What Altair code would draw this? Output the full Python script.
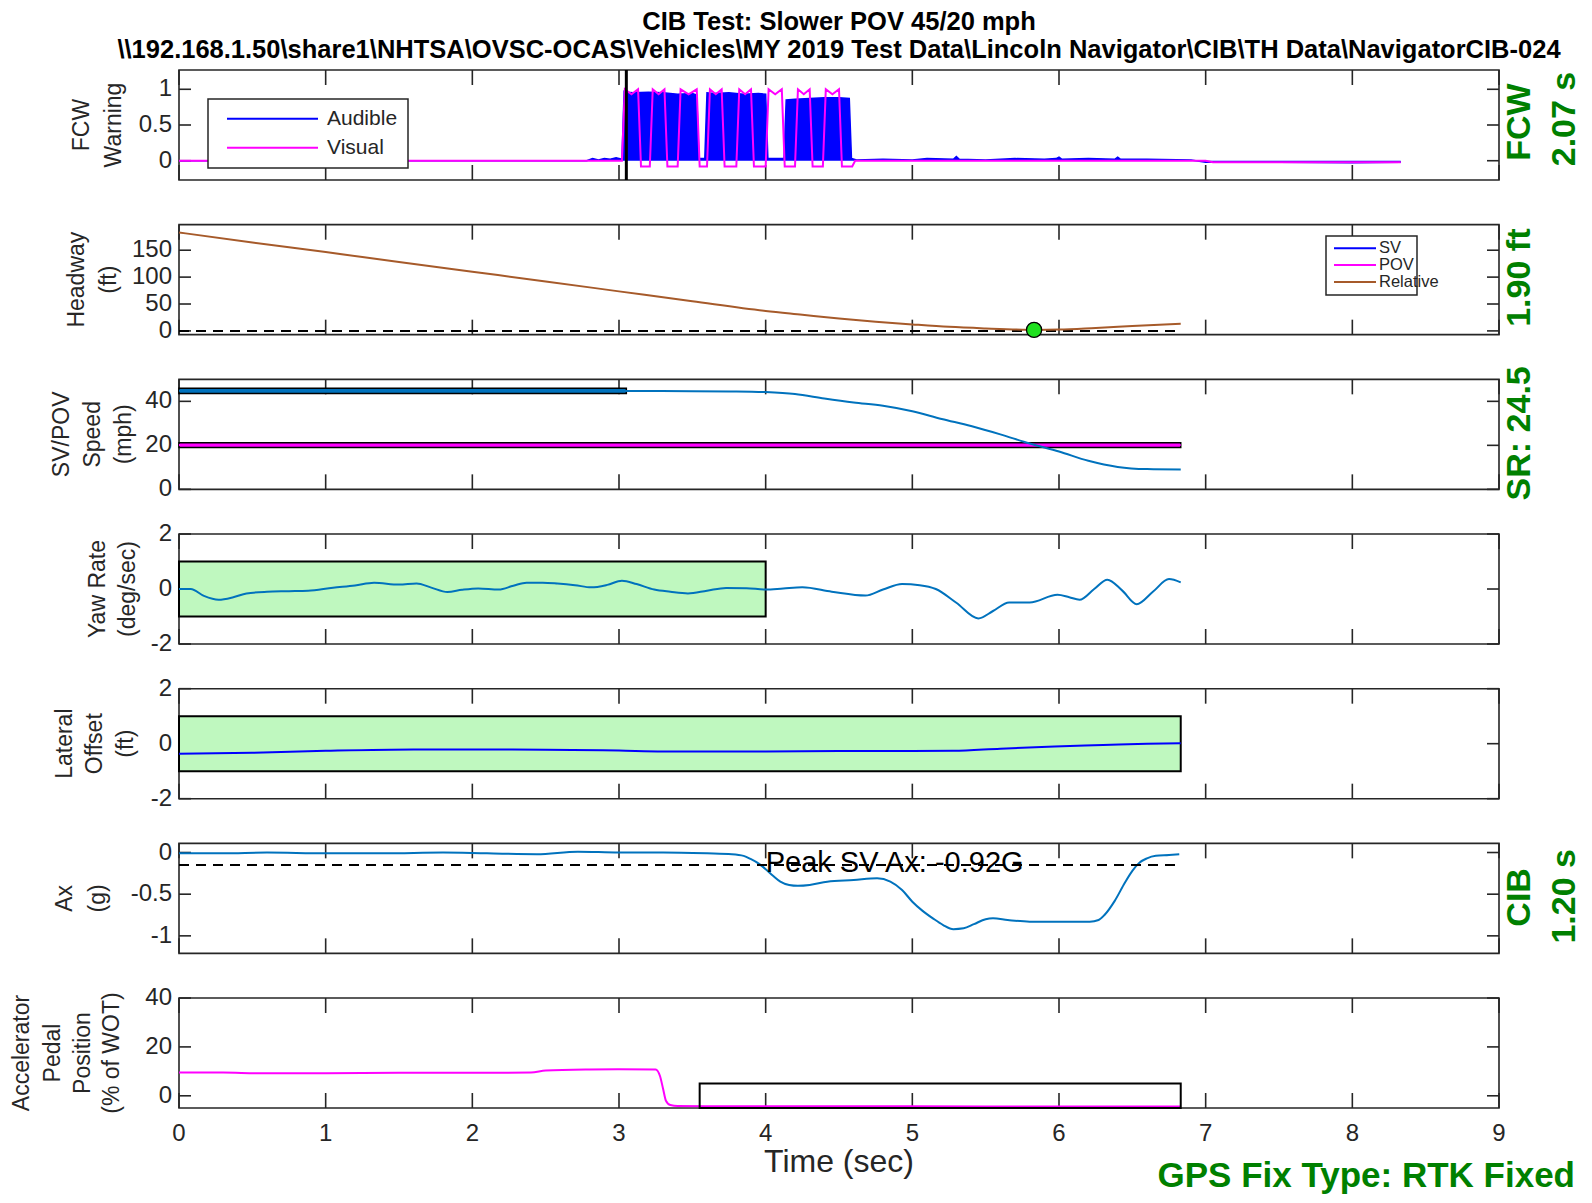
import altair as alt
import pandas as pd

# ------------------------------------------------------------------ data
time_ticks = [0, 1, 2, 3, 4, 5, 6, 7, 8, 9]
time_tick_labels = ["0", "1", "2", "3", "4", "5", "6", "7", "8", "9"]

# Panel 1: FCW warning
fcw_ticks = [0, 0.5, 1]
fcw_tick_labels = ["0", "0.5", "1"]
audible_t = [0.0, 2.78, 2.82, 2.86, 2.90, 2.94, 2.98, 3.02, 3.035, 3.045,
             3.10, 3.20, 3.30, 3.40, 3.50, 3.53, 3.545, 3.585, 3.60, 3.65,
             3.75, 3.85, 3.95, 4.00, 4.015, 4.125, 4.14, 4.20, 4.30, 4.40,
             4.50, 4.57, 4.585, 4.62, 4.80, 5.00, 5.10, 5.28, 5.30, 5.32,
             5.50, 5.70, 5.90, 5.98, 6.00, 6.02, 6.20, 6.38, 6.40, 6.42,
             6.60, 6.90, 7.00, 7.50, 8.00, 8.33]
audible_v = [0.0, 0.0, 0.03, 0.01, 0.03, 0.02, 0.04, 0.02, 0.97, 0.96,
             0.95, 0.96, 0.95, 0.93, 0.94, 0.92, 0.03, 0.03, 0.95, 0.94,
             0.95, 0.93, 0.94, 0.93, 0.03, 0.03, 0.85, 0.86, 0.87, 0.88,
             0.88, 0.87, 0.03, 0.01, 0.02, 0.01, 0.03, 0.02, 0.06, 0.02,
             0.01, 0.03, 0.02, 0.03, 0.05, 0.02, 0.03, 0.02, 0.05, 0.02,
             0.02, 0.01, -0.02, -0.02, -0.03, -0.02]
visual_t = [0.0, 3.02,
            3.04, 3.085, 3.13, 3.15, 3.21,
            3.23, 3.27, 3.31, 3.33, 3.40,
            3.42, 3.475, 3.53, 3.55, 3.60,
            3.62, 3.66, 3.70, 3.72, 3.80,
            3.82, 3.86, 3.90, 3.92, 4.00,
            4.02, 4.065, 4.11, 4.13, 4.20,
            4.22, 4.26, 4.30, 4.32, 4.39,
            4.41, 4.455, 4.50, 4.52, 4.59,
            4.61, 7.00, 7.05, 8.33]
visual_v = [0.0, 0.0,
            1.0, 0.93, 1.0, -0.08, -0.08,
            1.0, 0.93, 1.0, -0.08, -0.08,
            1.0, 0.93, 1.0, -0.08, -0.08,
            1.0, 0.93, 1.0, -0.08, -0.08,
            1.0, 0.93, 1.0, -0.08, -0.08,
            1.0, 0.93, 1.0, -0.08, -0.08,
            1.0, 0.93, 1.0, -0.08, -0.08,
            1.0, 0.93, 1.0, -0.08, -0.08,
            0.0, 0.0, -0.02, -0.02]
fcw_onset_t = [3.05]
fcw_legend = ["Audible", "Visual"]

# Panel 2: headway
headway_ticks = [0, 50, 100, 150]
headway_tick_labels = ["0", "50", "100", "150"]
relative_t = [0, 0.5, 1, 1.5, 2, 2.5, 3, 3.5, 4, 4.25, 4.5, 4.75, 5, 5.25,
              5.5, 5.75, 5.83, 6, 6.25, 6.5, 6.83]
relative_v = [183, 164.5, 146.5, 128, 110, 92, 73.5, 55, 37, 30, 23, 17, 12,
              7.5, 4.5, 2.2, 1.9, 2.4, 5.5, 9, 13.5]
headway_zero_t = [0, 6.83]
headway_zero_v = [0, 0]
min_gap_t = [5.83]
min_gap_v = [1.9]
headway_legend = ["SV", "POV", "Relative"]

# Panel 3: speeds
speed_ticks = [0, 20, 40]
speed_tick_labels = ["0", "20", "40"]
sv_t = [0, 0.5, 1, 1.5, 2, 2.5, 3, 3.5, 3.8, 4.0, 4.2, 4.4, 4.6, 4.8, 5.0,
        5.2, 5.4, 5.6, 5.8, 6.0, 6.2, 6.4, 6.6, 6.83]
sv_v = [44.8, 44.8, 44.8, 44.7, 44.8, 44.7, 44.7, 44.6, 44.5, 44.2, 43.3,
        41.3, 39.5, 38.0, 35.5, 32.0, 28.8, 25.0, 20.8, 17.2, 13.0, 10.2,
        9.2, 9.0]
pov_t = [0, 6.83]
pov_v = [20.1, 20.1]
sv_band = [0, 3.05, 43.6, 45.9]
pov_band = [0, 6.83, 19.0, 21.2]

# Panel 4: yaw rate
yaw_ticks = [-2, 0, 2]
yaw_tick_labels = ["-2", "0", "2"]
yaw_t = [0.00, 0.08, 0.17, 0.27, 0.37, 0.46, 0.60, 0.75, 0.88, 1.05,
         1.20, 1.33, 1.50, 1.62, 1.72, 1.83, 1.93, 2.04, 2.18, 2.28,
         2.37, 2.48, 2.58, 2.70, 2.81, 2.92, 3.02, 3.12, 3.24, 3.35,
         3.47, 3.60, 3.73, 3.87, 4.00, 4.12, 4.25, 4.45, 4.68, 4.80,
         4.93, 5.05, 5.16, 5.30, 5.45, 5.55, 5.66, 5.80, 5.99, 6.07,
         6.14, 6.24, 6.33, 6.43, 6.53, 6.64, 6.75, 6.83]
yaw_v = [0.00, 0.00, -0.25, -0.39, -0.30, -0.16, -0.10, -0.08, -0.06, 0.05,
         0.13, 0.23, 0.16, 0.20, 0.05, -0.11, -0.03, 0.02, -0.02, 0.12,
         0.23, 0.23, 0.20, 0.14, 0.06, 0.15, 0.30, 0.18, -0.02, -0.10,
         -0.16, -0.06, 0.04, 0.03, -0.02, 0.02, 0.06, -0.10, -0.24, -0.02,
         0.18, 0.14, 0.00, -0.50, -1.07, -0.80, -0.49, -0.49, -0.21, -0.30,
         -0.39, 0.00, 0.34, -0.05, -0.55, -0.10, 0.36, 0.24]
yaw_band = [0, 4.0, -1, 1]

# Panel 5: lateral offset
lat_ticks = [-2, 0, 2]
lat_tick_labels = ["-2", "0", "2"]
lat_t = [0, 0.5, 1.0, 1.6, 2.27, 3.0, 3.3, 4.0, 4.5, 5.0, 5.28, 5.6, 5.97,
         6.3, 6.6, 6.83]
lat_v = [-0.37, -0.33, -0.26, -0.21, -0.21, -0.25, -0.28, -0.28, -0.27,
         -0.27, -0.26, -0.18, -0.10, -0.05, 0.00, 0.02]
lat_band = [0, 6.83, -1, 1]

# Panel 6: longitudinal acceleration
ax_ticks = [-1, -0.5, 0]
ax_tick_labels = ["-1", "-0.5", "0"]
ax_t = [0.00, 0.30, 0.60, 1.00, 1.40, 1.80, 2.10, 2.44, 2.72, 3.00,
        3.30, 3.60, 3.77, 3.85, 3.90, 3.95, 4.00, 4.05, 4.10, 4.16,
        4.22, 4.30, 4.42, 4.60, 4.76, 4.85, 4.93, 5.00, 5.07, 5.14,
        5.21, 5.28, 5.35, 5.42, 5.50, 5.55, 5.65, 5.80, 6.00, 6.21,
        6.27, 6.31, 6.38, 6.45, 6.50, 6.55, 6.60, 6.66, 6.75, 6.82]
ax_v = [-0.01, -0.01, 0.00, -0.01, -0.01, 0.00, -0.01, -0.02, 0.01, 0.00,
        0.00, -0.01, -0.02, -0.04, -0.08, -0.13, -0.20, -0.28, -0.35, -0.39,
        -0.40, -0.39, -0.35, -0.33, -0.31, -0.35, -0.45, -0.59, -0.70, -0.79,
        -0.87, -0.92, -0.91, -0.86, -0.80, -0.79, -0.81, -0.83, -0.83, -0.83,
        -0.81, -0.75, -0.58, -0.36, -0.22, -0.12, -0.07, -0.04, -0.03, -0.02]
ax_thresh_t = [0, 6.83]
ax_thresh_v = [-0.15, -0.15]
peak_t = [4.0]
peak_v = [-0.13]
peak_label = ["Peak SV Ax: -0.92G"]

# Panel 7: accelerator pedal
pedal_ticks = [0, 20, 40]
pedal_tick_labels = ["0", "20", "40"]
pedal_t = [0.00, 0.30, 0.55, 1.00, 1.50, 2.00, 2.40, 2.50, 2.80, 3.00,
           3.25, 3.28, 3.30, 3.32, 3.35, 3.40, 4.00, 5.00, 6.00, 6.83]
pedal_v = [9.5, 9.5, 9.2, 9.2, 9.4, 9.4, 9.5, 10.3, 10.8, 10.9,
           10.8, 8.0, 3.0, -2.0, -3.8, -4.2, -4.3, -4.3, -4.4, -4.4]
pedal_box = [3.55, 6.83, -5, 5]

# ------------------------------------------------------------------ style
W, H = 1320, 110
FRAME = "#262626"
GREEN = "#008000"
BLUE = "#0000FF"
MAG = "#FF00FF"
MBLUE = "#0072BD"
BROWN = "#A65A2A"
BAND = "#BFF8BF"
FONT = "Liberation Sans"
XTICK, YTICK, TW = 15, 12, 1.6
GSIZE = 34
XS = alt.Scale(domain=[0, 9], nice=False, zero=False)
ONE = pd.DataFrame({"k": [0]})


def ys(dom):
    return alt.Scale(domain=dom, nice=False, zero=False)


def X(field="t"):
    return alt.X(f"{field}:Q", scale=XS, axis=None, title=None)


def Y(dom, field="v"):
    return alt.Y(f"{field}:Q", scale=ys(dom), axis=None, title=None)


def frame(dom, ticks, labels, xlabels=False):
    xt = pd.DataFrame({"t": time_ticks, "lab": time_tick_labels})
    yt = pd.DataFrame({"v": ticks, "lab": labels})
    bx = alt.Chart(xt).mark_rule(color=FRAME, strokeWidth=TW)
    by = alt.Chart(yt).mark_rule(color=FRAME, strokeWidth=TW)
    out = [
        bx.encode(x=X(), y=alt.value(0), y2=alt.value(XTICK)),
        bx.encode(x=X(), y=alt.value(H - XTICK), y2=alt.value(H)),
        by.encode(y=Y(dom), x=alt.value(0), x2=alt.value(YTICK)),
        by.encode(y=Y(dom), x=alt.value(W - YTICK), x2=alt.value(W)),
        alt.Chart(yt).mark_text(align="right", baseline="middle", fontSize=24,
                                font=FONT, color=FRAME)
        .encode(y=Y(dom), x=alt.value(-7), text="lab:N"),
    ]
    if xlabels:
        out.append(alt.Chart(xt).mark_text(align="center", baseline="top",
                                           fontSize=24, font=FONT, color=FRAME)
                   .encode(x=X(), y=alt.value(H + 14), text="lab:N"))
    return out


def dline(t, v, dom, color, width=2.0, dash=None, interp="linear"):
    kw = dict(color=color, strokeWidth=width, interpolate=interp)
    if dash:
        kw["strokeDash"] = dash
    return alt.Chart(pd.DataFrame({"t": t, "v": v})).mark_line(**kw).encode(
        x=X(), y=Y(dom))


def drect(b, dom, fill, fill_opacity=1.0, width=2.0):
    df = pd.DataFrame({"t0": [b[0]], "t1": [b[1]], "v0": [b[2]], "v1": [b[3]]})
    return alt.Chart(df).mark_rect(fill=fill, fillOpacity=fill_opacity,
                                   stroke="#000000", strokeWidth=width).encode(
        x=X("t0"), x2="t1:Q", y=Y(dom, "v0"), y2="v1:Q")


def txt(s, x, y, size, color=FRAME, bold=False, angle=0, align="center",
        baseline="middle"):
    return alt.Chart(ONE).mark_text(
        text=s, fontSize=size, font=FONT, color=color,
        fontWeight="bold" if bold else "normal", angle=angle, align=align,
        baseline=baseline).encode(x=alt.value(x), y=alt.value(y))


def prule(x1, x2, y1, y2, color, width=2.0):
    return alt.Chart(ONE).mark_rule(color=color, strokeWidth=width).encode(
        x=alt.value(x1), x2=alt.value(x2), y=alt.value(y1), y2=alt.value(y2))


def pbox(x1, x2, y1, y2):
    return alt.Chart(ONE).mark_rect(fill="white", stroke=FRAME,
                                    strokeWidth=1.5).encode(
        x=alt.value(x1), x2=alt.value(x2), y=alt.value(y1), y2=alt.value(y2))


def ytitle(lines, xs):
    return [txt(s, x, H / 2, 23, angle=270) for s, x in zip(lines, xs)]


def panel(layers):
    return alt.layer(*layers).properties(width=W, height=H)


# ------------------------------------------------------------------ panels
D1 = [-0.27, 1.27]
p1 = panel(
    frame(D1, fcw_ticks, fcw_tick_labels)
    + [
        alt.Chart(pd.DataFrame({"t": audible_t, "v": audible_v}))
        .mark_area(color=BLUE, opacity=1, line={"color": BLUE, "strokeWidth": 1.5})
        .encode(x=X(), y=Y(D1), y2=alt.datum(0)),
        dline(visual_t, visual_v, D1, MAG, 2.0),
        alt.Chart(pd.DataFrame({"t": fcw_onset_t})).mark_rule(
            color="#000000", strokeWidth=3).encode(
            x=X(), y=alt.value(0), y2=alt.value(H)),
        pbox(29, 229, 29, 98),
        prule(48, 139, 48.7, 48.7, BLUE),
        prule(48, 139, 77.7, 77.7, MAG),
        txt(fcw_legend[0], 148, 48.7, 21, align="left"),
        txt(fcw_legend[1], 148, 77.7, 21, align="left"),
        txt("CIB Test: Slower POV 45/20 mph", W / 2, -48, 25.5, "#000000", True),
        txt("\\\\192.168.1.50\\share1\\NHTSA\\OVSC-OCAS\\Vehicles\\MY 2019 Test Data"
            "\\Lincoln Navigator\\CIB\\TH Data\\NavigatorCIB-024",
            W / 2, -20, 25.5, "#000000", True),
        txt("FCW", 1341, 52, GSIZE, GREEN, True, 270),
        txt("2.07 s", 1386, 49, GSIZE, GREEN, True, 270),
        prule(-169.5, -168.5, -60.5, -59.5, "#FFFFFF", 1),
    ]
    + ytitle(["FCW", "Warning"], [-97, -65])
)

D2 = [-7, 197.5]
p2 = panel(
    frame(D2, headway_ticks, headway_tick_labels)
    + [
        dline(headway_zero_t, headway_zero_v, D2, "#000000", 2.0, [10, 7]),
        dline(relative_t, relative_v, D2, BROWN, 2.0, interp="monotone"),
        alt.Chart(pd.DataFrame({"t": min_gap_t, "v": min_gap_v})).mark_point(
            filled=True, fill="#1EE01E", stroke="#000000", strokeWidth=1.3,
            size=230, opacity=1).encode(x=X(), y=Y(D2)),
        pbox(1147, 1238, 11.3, 70.3),
        prule(1155, 1197, 23.6, 23.6, BLUE),
        prule(1155, 1197, 40.3, 40.3, MAG),
        prule(1155, 1197, 57.3, 57.3, BROWN),
        txt(headway_legend[0], 1200, 23.6, 16.5, align="left"),
        txt(headway_legend[1], 1200, 40.3, 16.5, align="left"),
        txt(headway_legend[2], 1200, 57.3, 16.5, align="left"),
        txt("1.90 ft", 1341, 53, GSIZE, GREEN, True, 270),
    ]
    + ytitle(["Headway", "(ft)"], [-102, -70.5])
)

D3 = [0, 50]
p3 = panel(
    frame(D3, speed_ticks, speed_tick_labels)
    + [
        drect(sv_band, D3, MBLUE, 1.0, 1.5),
        drect(pov_band, D3, MAG, 1.0, 1.5),
        dline(pov_t, pov_v, D3, MAG, 2.0),
        dline(sv_t, sv_v, D3, MBLUE, 2.0, interp="monotone"),
        txt("SR: 24.5", 1341, 54, GSIZE, GREEN, True, 270),
    ]
    + ytitle(["SV/POV", "Speed", "(mph)"], [-117, -86, -55])
)

D4 = [-2, 2]
p4 = panel(
    frame(D4, yaw_ticks, yaw_tick_labels)
    + [
        drect(yaw_band, D4, BAND, 1.0, 2.0),
        dline(yaw_t, yaw_v, D4, MBLUE, 2.0, interp="monotone"),
    ]
    + ytitle(["Yaw Rate", "(deg/sec)"], [-81, -51.5])
)

D5 = [-2, 2]
p5 = panel(
    frame(D5, lat_ticks, lat_tick_labels)
    + [
        drect(lat_band, D5, BAND, 1.0, 2.0),
        dline(lat_t, lat_v, D5, BLUE, 2.0, interp="monotone"),
    ]
    + ytitle(["Lateral", "Offset", "(ft)"], [-114, -84, -53])
)

D6 = [-1.21, 0.11]
p6 = panel(
    frame(D6, ax_ticks, ax_tick_labels)
    + [
        dline(ax_t, ax_v, D6, MBLUE, 2.0, interp="monotone"),
        dline(ax_thresh_t, ax_thresh_v, D6, "#000000", 2.0, [10, 7]),
        alt.Chart(pd.DataFrame({"t": peak_t, "v": peak_v, "s": peak_label}))
        .mark_text(align="left", baseline="middle", fontSize=29, font=FONT,
                   color="#000000")
        .encode(x=X(), y=Y(D6), text="s:N"),
        txt("CIB", 1341, 54, GSIZE, GREEN, True, 270),
        txt("1.20 s", 1386, 53, GSIZE, GREEN, True, 270),
    ]
    + ytitle(["Ax", "(g)"], [-114, -81])
)

D7 = [-5, 40]
p7 = panel(
    frame(D7, pedal_ticks, pedal_tick_labels, xlabels=True)
    + [
        dline(pedal_t, pedal_v, D7, MAG, 2.0, interp="monotone"),
        drect(pedal_box, D7, "#FFFFFF", 0.0, 2.0),
        txt("Time (sec)", W / 2, 174, 32, FRAME, False, 0, "center", "alphabetic"),
        txt("GPS Fix Type: RTK Fixed", 1396, 189, 35, GREEN, True, 0, "right",
            "alphabetic"),
    ]
    + ytitle(["Accelerator", "Pedal", "Position", "(% of WOT)"],
             [-156.6, -126, -96.4, -67])
)

chart = alt.vconcat(p1, p2, p3, p4, p5, p6, p7, spacing=44.67, bounds="flush",
                    padding=0, background="white").configure_view(
    stroke=FRAME, strokeWidth=1.6)

chart.save("out.html", embed_options={"renderer": "svg", "actions": False})
